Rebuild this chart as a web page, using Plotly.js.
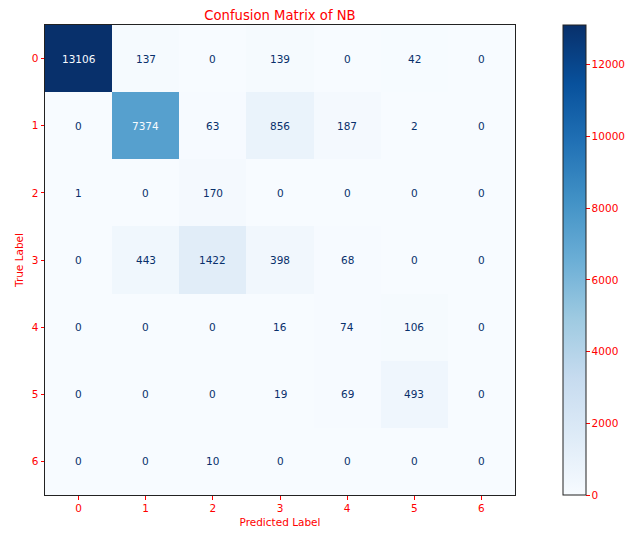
<!DOCTYPE html>
<html>
<head>
<meta charset="utf-8">
<script src="https://cdn.plot.ly/plotly-3.0.1.min.js"></script>
<style>html,body{margin:0;padding:0;background:#fff;}</style>
</head>
<body>
<div id="chart" style="width:630px;height:533px;"></div>
<script>
const predictedLabels = [0, 1, 2, 3, 4, 5, 6];
const trueLabels = [0, 1, 2, 3, 4, 5, 6];
const row0 = [13106, 137, 0, 139, 0, 42, 0];
const row1 = [0, 7374, 63, 856, 187, 2, 0];
const row2 = [1, 0, 170, 0, 0, 0, 0];
const row3 = [0, 443, 1422, 398, 68, 0, 0];
const row4 = [0, 0, 0, 16, 74, 106, 0];
const row5 = [0, 0, 0, 19, 69, 493, 0];
const row6 = [0, 0, 10, 0, 0, 0, 0];
const matrix = [row0, row1, row2, row3, row4, row5, row6];
const colorbarTicks = [0, 2000, 4000, 6000, 8000, 10000, 12000];

const blues = [
  [0, '#f7fbff'], [0.125, '#deebf7'], [0.25, '#c6dbef'], [0.375, '#9ecae1'],
  [0.5, '#6baed6'], [0.625, '#4292c6'], [0.75, '#2171b5'], [0.875, '#08519c'], [1, '#08306b']
];

let vmax = -Infinity, vmin = Infinity;
matrix.forEach(r => r.forEach(v => { vmax = Math.max(vmax, v); vmin = Math.min(vmin, v); }));
const thresh = (vmax + vmin) / 2;

const font = 'DejaVu Sans, sans-serif';
const fs = 10.5;
const annotations = [];
matrix.forEach((r, i) => r.forEach((v, j) => {
  annotations.push({
    x: predictedLabels[j], y: trueLabels[i], xref: 'x', yref: 'y',
    text: String(v), showarrow: false,
    font: {family: font, size: fs, color: v > thresh ? '#f7fbff' : '#08306b'}
  });
}));

const paperW = 583;
const trace = {
  type: 'heatmap', x: predictedLabels, y: trueLabels, z: matrix,
  colorscale: blues, zmin: vmin, zmax: vmax, hoverinfo: 'skip',
  colorbar: {
    x: 518 / paperW, xanchor: 'left', xpad: 0, y: 0.5, yanchor: 'middle', ypad: 0,
    len: 1, lenmode: 'fraction', thickness: 23, thicknessmode: 'pixels',
    outlinecolor: '#222', outlinewidth: 1,
    tickvals: colorbarTicks, ticktext: colorbarTicks.map(String),
    ticks: 'outside', ticklen: 3.5, tickcolor: 'red', tickwidth: 1,
    tickfont: {family: font, size: fs, color: 'red'}
  }
};

const layout = {
  width: 630, height: 533,
  margin: {l: 45, r: 2, t: 25, b: 38, autoexpand: false},
  paper_bgcolor: '#fff', plot_bgcolor: '#fff',
  title: {text: 'Confusion Matrix of NB', font: {family: font, size: 13.2, color: 'red'},
          x: 235 / paperW, xanchor: 'center', xref: 'paper', y: 1, yref: 'paper', yanchor: 'bottom', pad: {b: 5}},
  xaxis: {
    domain: [0, 470 / paperW],
    title: {text: 'Predicted Label', font: {family: font, size: fs, color: 'red'}, standoff: 5},
    tickvals: predictedLabels, ticktext: predictedLabels.map(String),
    range: [-0.5, 6.5], ticks: 'outside', ticklen: 3.5, tickcolor: 'red',
    tickfont: {family: font, size: fs, color: 'red'},
    showline: true, mirror: true, linecolor: '#222', linewidth: 1,
    showgrid: false, zeroline: false
  },
  yaxis: {
    title: {text: 'True Label', font: {family: font, size: fs, color: 'red'}, standoff: 6},
    tickvals: trueLabels, ticktext: trueLabels.map(String),
    range: [6.5, -0.5], ticks: 'outside', ticklen: 3.5, tickcolor: 'red',
    tickfont: {family: font, size: fs, color: 'red'},
    showline: true, mirror: true, linecolor: '#222', linewidth: 1,
    showgrid: false, zeroline: false
  },
  annotations: annotations
};

Plotly.newPlot('chart', [trace], layout, {displayModeBar: false, staticPlot: true});
</script>
</body>
</html>
